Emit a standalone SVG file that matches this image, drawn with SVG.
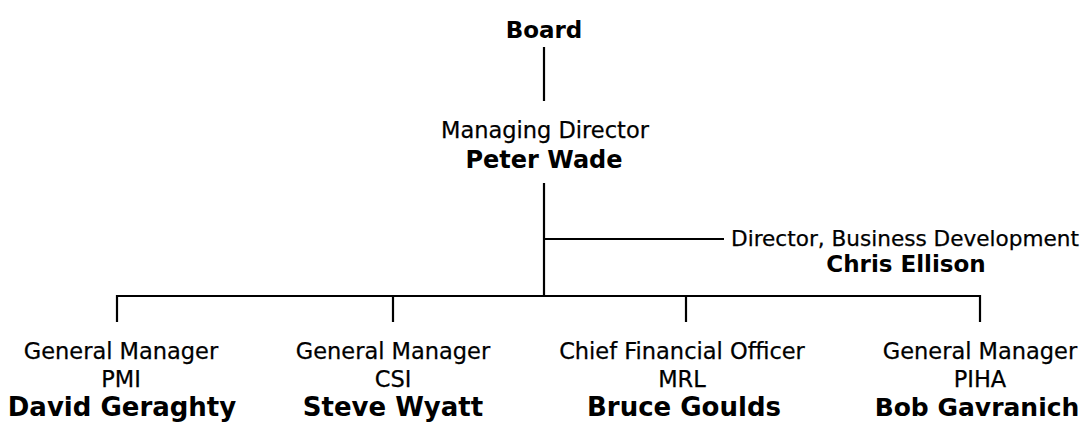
<svg xmlns="http://www.w3.org/2000/svg" width="1084" height="423" viewBox="0 0 1084 423">
<style>
text{font-family:"DejaVu Sans","Liberation Sans",sans-serif;fill:#000;text-anchor:middle}
.t{font-size:22.5px;stroke:#000;stroke-width:0.25}
.n{font-size:26px;font-weight:bold}
.c line{stroke:#000;stroke-width:2.2;fill:none}
</style>
<rect width="1084" height="423" fill="#fff"/>
<g class="c" id="connectors">
<line x1="544" y1="47" x2="544" y2="101"/>
<line x1="544" y1="183" x2="544" y2="297"/>
<line x1="544" y1="239" x2="724" y2="239"/>
<line x1="116" y1="296" x2="981" y2="296"/>
<line x1="117" y1="295" x2="117" y2="322"/>
<line x1="393" y1="295" x2="393" y2="322"/>
<line x1="686" y1="295" x2="686" y2="322"/>
<line x1="980" y1="295" x2="980" y2="322"/>
</g>
<g id="board"><text x="544" y="38" style="font-size:23px;font-weight:bold">Board</text></g>
<g id="md"><text class="t" x="545" y="138">Managing Director</text><text x="544" y="168" style="font-size:24px;font-weight:bold">Peter Wade</text></g>
<g id="bd"><text class="t" x="905" y="246" style="font-size:21.6px">Director, Business Development</text><text x="906" y="272" style="font-size:23px;font-weight:bold">Chris Ellison</text></g>
<g id="pmi"><text class="t" x="121" y="359">General Manager</text><text class="t" x="121" y="387">PMI</text><text class="n" x="122" y="416">David Geraghty</text></g>
<g id="csi"><text class="t" x="393" y="359">General Manager</text><text class="t" x="393" y="387">CSI</text><text class="n" x="393" y="416">Steve Wyatt</text></g>
<g id="mrl"><text class="t" x="682" y="359">Chief Financial Officer</text><text class="t" x="682" y="387">MRL</text><text class="n" x="684" y="416">Bruce Goulds</text></g>
<g id="piha"><text class="t" x="980" y="359">General Manager</text><text class="t" x="980" y="387">PIHA</text><text class="n" x="977" y="416" style="font-size:25px">Bob Gavranich</text></g>
</svg>
